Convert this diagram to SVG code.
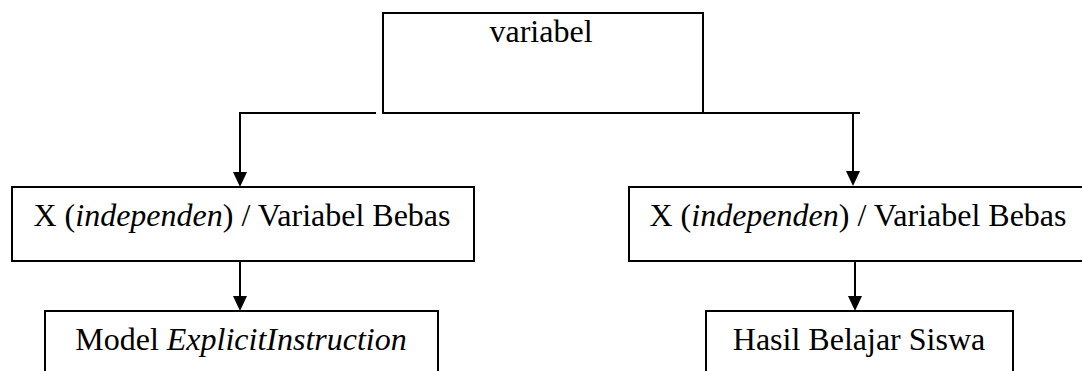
<svg xmlns="http://www.w3.org/2000/svg" width="1082" height="371" viewBox="0 0 1082 371">
  <style>
    .box { fill: #ffffff; stroke: #000000; stroke-width: 2; }
    .lbl { font-size: 32px; fill: #000000; text-anchor: middle; }
    .it { font-style: italic; }
    .con { fill: none; stroke: #000000; stroke-width: 2; }
  </style>
  <rect width="1082" height="371" fill="#ffffff"/>

  <g id="connectors">
    <polyline class="con" points="376,113 240,113 240,172"/>
    <path d="M233,172 L247,172 L240,187 Z" fill="#000000"/>
    <polyline class="con" points="702,113 860,113"/>
    <line class="con" x1="853" y1="113" x2="853" y2="171"/>
    <path d="M846,171 L860,171 L853,186 Z" fill="#000000"/>
    <line class="con" x1="240" y1="261" x2="240" y2="296"/>
    <path d="M233,296 L247,296 L240,311 Z" fill="#000000"/>
    <line class="con" x1="855" y1="261" x2="855" y2="296"/>
    <path d="M848,296 L862,296 L855,311 Z" fill="#000000"/>
  </g>

  <g id="node-variabel">
    <rect class="box" x="383" y="13" width="320" height="100"/>
    <text class="lbl" font-family="Liberation Serif, Times New Roman, DejaVu Serif, serif" x="541" y="42" font-size="30.5">variabel</text>
  </g>

  <g id="node-x-left">
    <rect class="box" x="12" y="187" width="462" height="74"/>
    <text class="lbl" font-family="Liberation Serif, Times New Roman, DejaVu Serif, serif" x="242" y="226">X (<tspan class="it">independen</tspan>) / Variabel Bebas</text>
  </g>

  <g id="node-x-right">
    <rect class="box" x="629" y="187" width="460" height="74"/>
    <text class="lbl" font-family="Liberation Serif, Times New Roman, DejaVu Serif, serif" x="858" y="226">X (<tspan class="it">independen</tspan>) / Variabel Bebas</text>
  </g>

  <g id="node-model">
    <rect class="box" x="45" y="311" width="393" height="80"/>
    <text class="lbl" font-family="Liberation Serif, Times New Roman, DejaVu Serif, serif" x="241" y="350">Model <tspan class="it">ExplicitInstruction</tspan></text>
  </g>

  <g id="node-hasil">
    <rect class="box" x="706" y="311" width="307" height="80"/>
    <text class="lbl" font-family="Liberation Serif, Times New Roman, DejaVu Serif, serif" x="859" y="350">Hasil Belajar Siswa</text>
  </g>
</svg>
